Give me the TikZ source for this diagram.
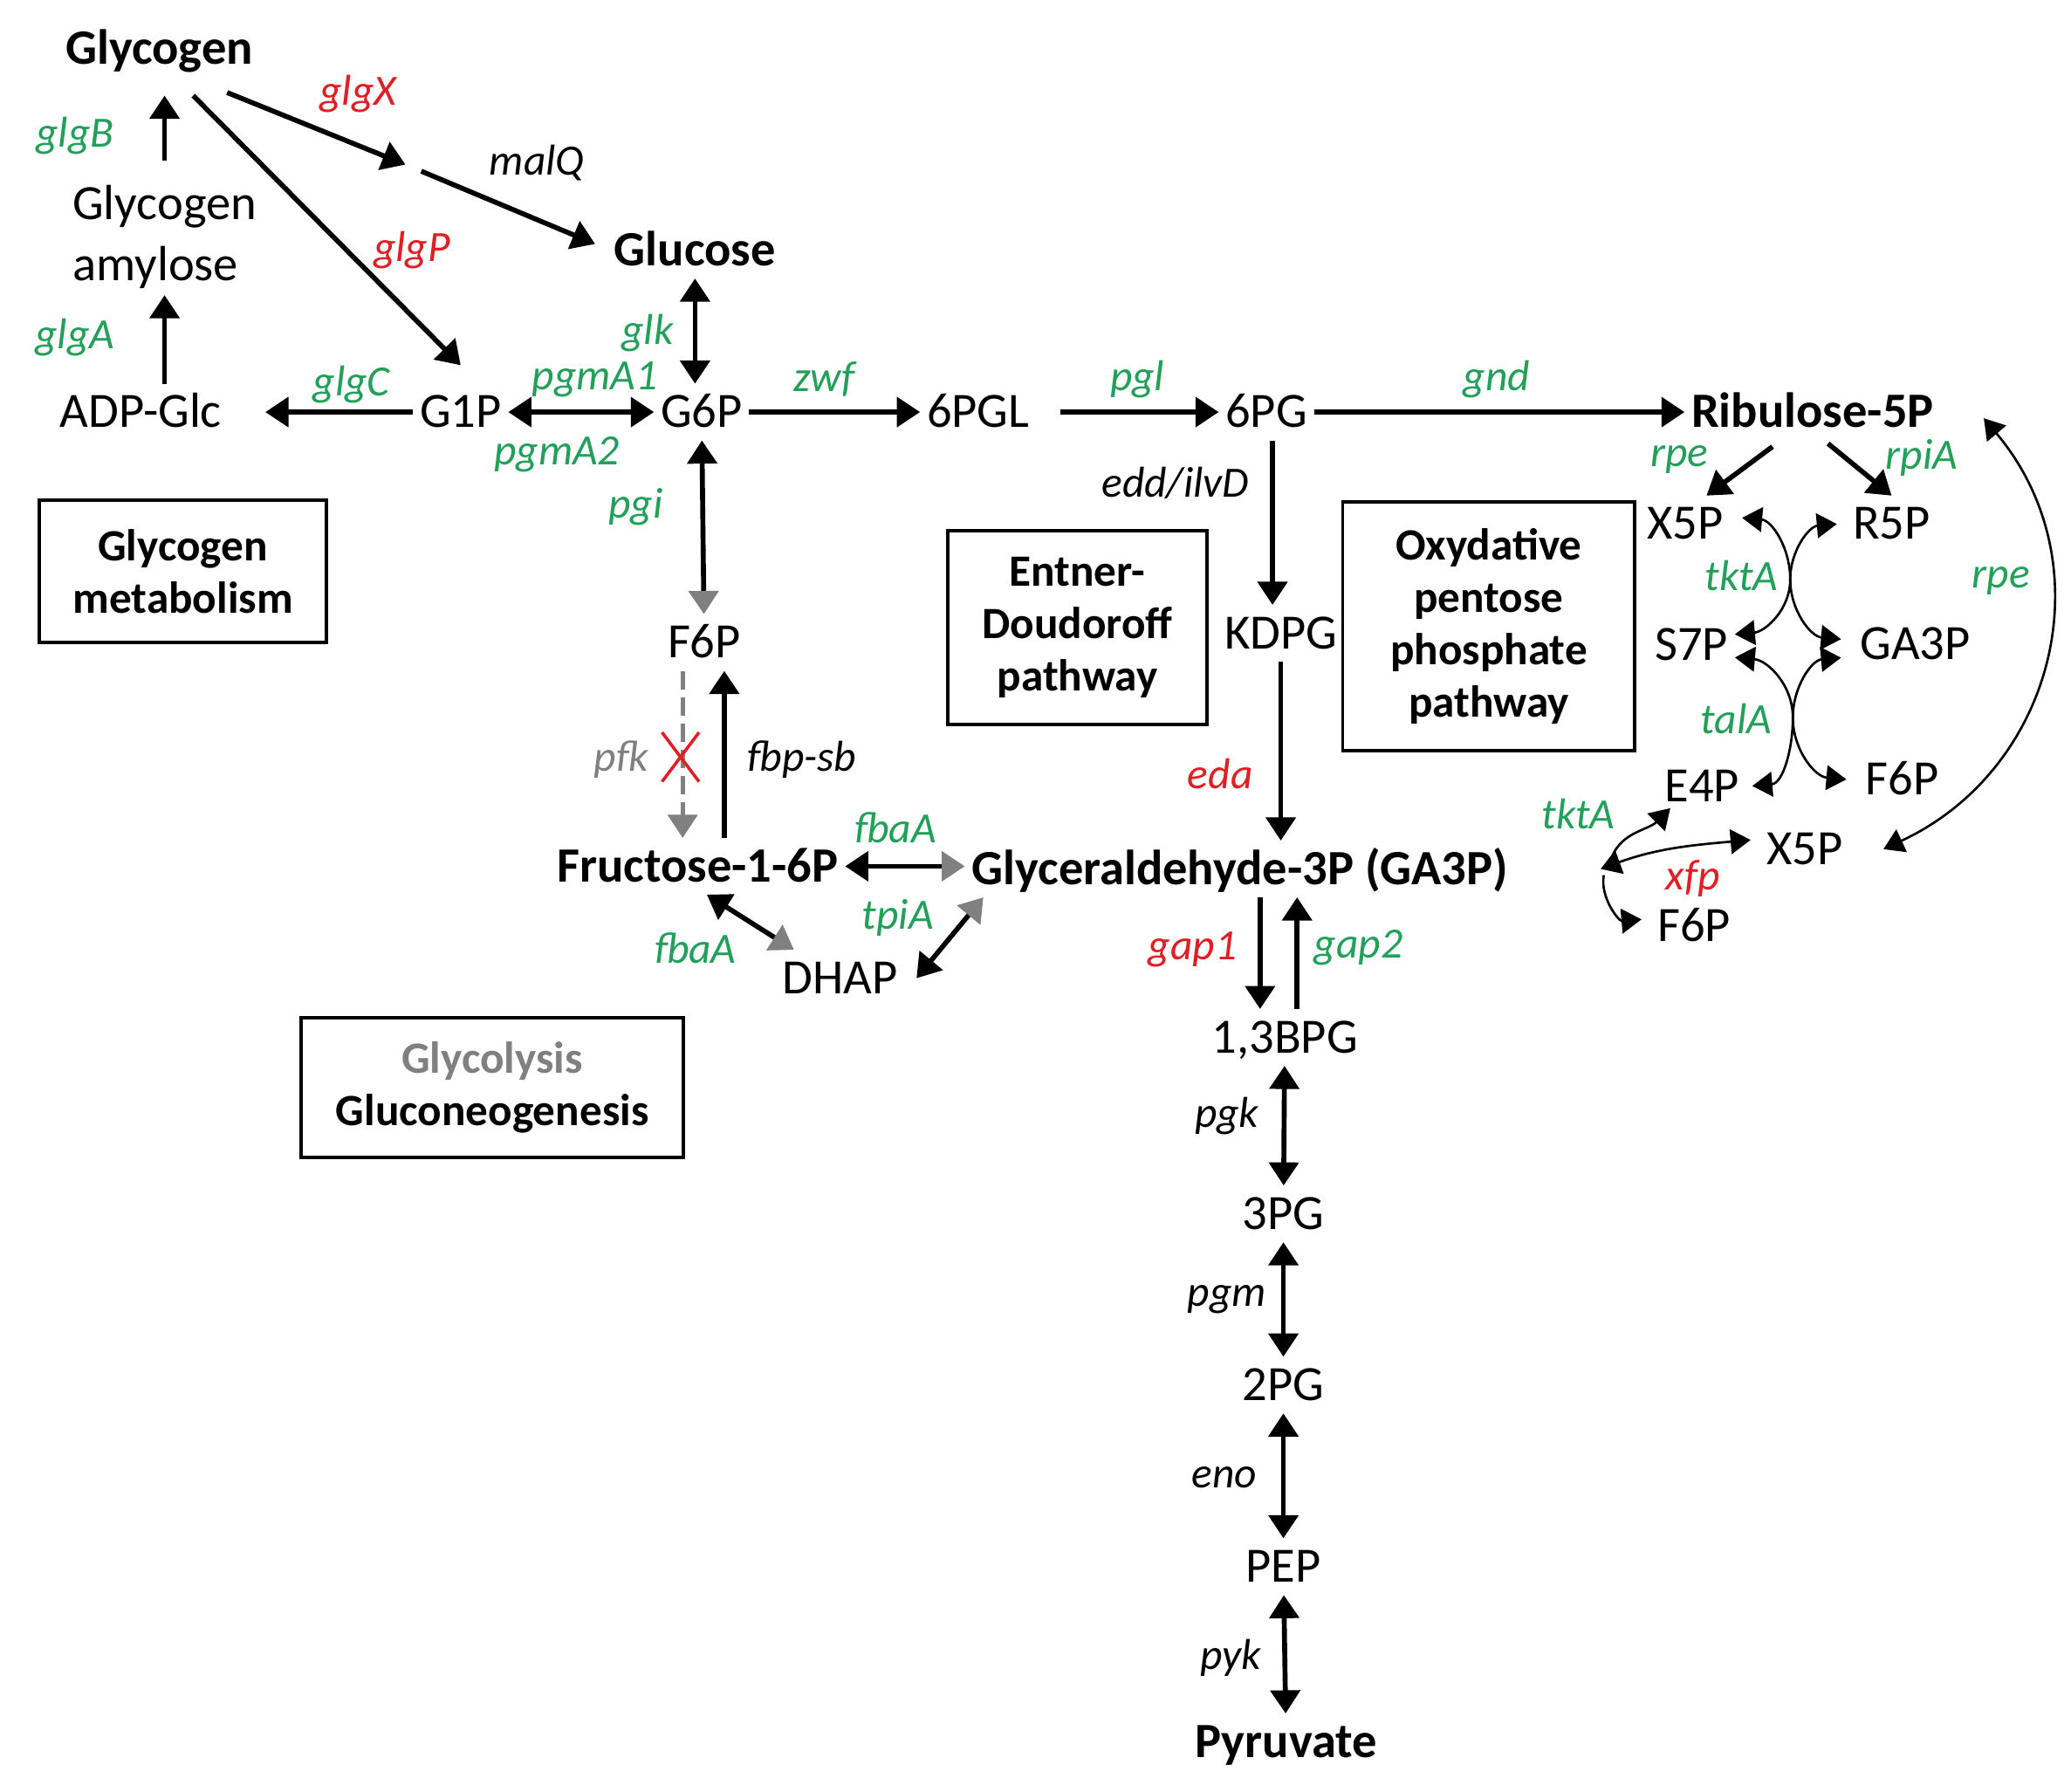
\documentclass[tikz,border=0pt]{standalone}
\usepackage{fontspec}
\setmainfont{Carlito}
\usetikzlibrary{arrows.meta}

\definecolor{enzgreen}{RGB}{34,160,90}
\definecolor{enzred}{RGB}{225,30,35}
\definecolor{enzgray}{RGB}{128,128,128}

\tikzset{
    met/.style={inner sep=2pt, font=\fontsize{16}{19.6}\selectfont, text height=12pt, text depth=2pt},
    bmet/.style={met, font=\fontsize{16}{19.6}\selectfont\bfseries},
    enz/.style={inner sep=0pt, font=\fontsize{14}{17}\selectfont\itshape},
    genz/.style={enz, text=enzgreen},
    renz/.style={enz, text=enzred},
    pbox/.style={draw, line width=1.1pt, align=center, font=\fontsize{14.5}{17}\selectfont\bfseries},
    rxn/.style={line width=1.6pt, -{Triangle[length=7.5pt,width=9.5pt]}},
    rrxn/.style={line width=1.6pt, {Triangle[length=7.5pt,width=9.5pt]}-{Triangle[length=7.5pt,width=9.5pt]}},
    grxn/.style={line width=1.6pt, {Triangle[length=7.5pt,width=9.5pt]}-{Triangle[length=7.5pt,width=9.5pt,color=enzgray,fill=enzgray]}},
    tarr/.style={line width=0.75pt, {Triangle[length=6.5pt,width=8pt]}-{Triangle[length=6.5pt,width=8pt]}},
    tarrend/.style={line width=0.75pt, -{Triangle[length=6.5pt,width=8pt]}}
}

\begin{document}
\begin{tikzpicture}[x=0.015cm, y=0.015cm]
    \useasboundingbox (0,0) rectangle (1568,-1361);

    % glycogen
    \node[bmet] at (121,-37)(glycogen){Glycogen};
    \node[inner sep=2pt, anchor=west, align=left, font=\fontsize{16}{19.6}\selectfont] at (50,-180)(amyl){Glycogen\\amylose};
    \node[met] at (107,-313)(adpglc){ADP-Glc};
    \node[met] at (350,-313)(g1p){G1P};
    \node[met] at (533,-313)(g6p){G6P};
    \node[bmet] at (528,-190)(glucose){Glucose};
    \coordinate (dexa) at (308,-125);
    \coordinate (dexb) at (320,-130);

    % upper row
    \node[met] at (743,-313)(pgl6){6PGL};
    \node[met] at (962,-313)(pg6){6PG};
    \node[bmet] at (1377,-313)(ribu){Ribulose-5P};
    \node[met] at (973,-481)(kdpg){KDPG};

    % glycolysis
    \node[met] at (535,-488)(f6p){F6P};
    \node[bmet] at (530,-658)(fru){Fructose-1-6P};
    \node[bmet] at (942,-660)(ga3p){Glyceraldehyde-3P (GA3P)};
    \node[met] at (638,-743)(dhap){DHAP};
    \node[met] at (976,-788)(bpg){1,3BPG};
    \node[met] at (975,-922)(pg3){3PG};
    \node[met] at (975,-1052)(pg2){2PG};
    \node[met] at (975,-1190)(pep){PEP};
    \node[bmet] at (977,-1323)(pyr){Pyruvate};

    % pentose phosphate
    \node[met] at (1280,-398)(x5pt){X5P};
    \node[met] at (1437,-398)(r5p){R5P};
    \node[met] at (1285,-490)(s7p){S7P};
    \node[met] at (1455,-489)(ga3pp){GA3P};
    \node[met] at (1293,-597)(e4p){E4P};
    \node[met] at (1445,-592)(f6pt){F6P};
    \node[met] at (1371,-645)(x5pb){X5P};
    \node[met] at (1287,-703)(f6pb){F6P};
    \coordinate (tkx) at (1360,-440);
    \coordinate (talx) at (1362,-545);
    \coordinate (tkj) at (1216,-660);

    % boxes
    \node[pbox, minimum width=3.27cm, minimum height=1.62cm] at (139,-434)(bxgly){Glycogen\\metabolism};
    \node[pbox, minimum width=2.955cm, minimum height=2.205cm] at (818.5,-476.5)(bxed){Entner-\\Doudoroff\\pathway};
    \node[pbox, minimum width=3.33cm, minimum height=2.835cm] at (1131,-475.5)(bxppp){Oxydative\\pentose\\phosphate\\pathway};
    \node[pbox, minimum width=4.35cm, minimum height=1.59cm] at (374,-826)(bxglyc){\textcolor{enzgray}{Glycolysis}\\Gluconeogenesis};

    % enzymes
    \node[genz] at (57,-103)(glgB){glgB};
    \node[genz] at (57,-256)(glgA){glgA};
    \node[genz] at (267,-292)(glgC){glgC};
    \node[renz] at (272,-71)(glgX){glgX};
    \node[enz] at (408,-124)(malQ){malQ};
    \node[renz] at (313,-190)(glgP){glgP};
    \node[genz] at (492,-253)(glk){glk};
    \node[genz] at (452,-288)(pgmAa){pgmA1};
    \node[genz] at (423,-345)(pgmAb){pgmA2};
    \node[genz] at (626,-288)(zwf){zwf};
    \node[genz] at (864,-288)(pgl){pgl};
    \node[genz] at (1137,-288)(gnd){gnd};
    \node[enz] at (893,-367)(edd){edd/ilvD};
    \node[genz] at (483,-385)(pgi){pgi};
    \node[renz] at (927,-588)(eda){eda};
    \node[enz, text=enzgray] at (472,-577)(pfk){pfk};
    \node[enz] at (609,-577)(fbp){fbp-sb};
    \node[genz] at (680,-629)(fbaAa){fbaA};
    \node[genz] at (682,-697)(tpiA){tpiA};
    \node[genz] at (528,-720)(fbaAb){fbaA};
    \node[renz] at (906,-721)(gapa){gap1};
    \node[genz] at (1032,-720)(gapb){gap2};
    \node[enz] at (932,-848)(pgk){pgk};
    \node[enz] at (932,-987)(pgm){pgm};
    \node[enz] at (930,-1122)(eno){eno};
    \node[enz] at (935,-1259)(pyk){pyk};
    \node[genz] at (1276,-349)(rpea){rpe};
    \node[genz] at (1460,-348)(rpiA){rpiA};
    \node[genz] at (1323,-437)(tktAa){tktA};
    \node[genz] at (1520,-441)(rpeb){rpe};
    \node[genz] at (1319,-546)(talA){talA};
    \node[genz] at (1199,-618)(tktAb){tktA};
    \node[renz] at (1286,-667)(xfp){xfp};

    % glycogen reactions
    \draw[rxn] (adpglc.north -| amyl.south) -- (amyl.south);
    \draw[rxn, shorten <=6pt, shorten >=6pt] (amyl.north) -- (amyl.north |- glycogen.south);
    \draw[rxn] ([xshift=11pt,yshift=-6pt]glycogen.south) -- ([yshift=6pt]g1p.north);
    \draw[rxn] ([xshift=22pt,yshift=-5pt]glycogen.south) -- (dexa);
    \draw[rxn] (dexb) -- ([xshift=-4pt,yshift=2pt]glucose.west);
    \draw[rxn, shorten >=12pt] (g1p) -- (adpglc);
    \draw[rrxn] (g1p) -- (g6p);
    \draw[rrxn] (glucose.south) -- (glucose.south |- g6p.north);

    % oxidative branch
    \draw[rxn] (g6p) -- (pgl6);
    \draw[rxn, shorten <=8pt] (pgl6) -- (pg6);
    \draw[rxn] (pg6) -- (ribu);
    \draw[rxn] ([xshift=2pt]pg6.south) -- ([xshift=2pt]pg6.south |- kdpg.north);
    \draw[rxn] (kdpg.south) -- (kdpg.south |- ga3p.north);

    % upper glycolysis
    \draw[grxn] (g6p) -- (f6p);
    \draw[line width=1.4pt, enzgray, dash pattern=on 6pt off 2.5pt, -{Triangle[length=7.5pt,width=9.5pt]}] ([xshift=-7pt]f6p.south) -- ([xshift=-7pt]f6p.south |- fru.north);
    \draw[rxn] ([xshift=6.5pt]f6p.south |- fru.north) -- ([xshift=6.5pt]f6p.south);
    \coordinate (pfkx) at (517,-575);
    \draw[enzred, line width=1pt] ([shift={(-6pt,8pt)}]pfkx) -- ([shift={(6pt,-8pt)}]pfkx)
        ([shift={(6pt,8pt)}]pfkx) -- ([shift={(-6pt,-8pt)}]pfkx);
    \draw[grxn] (fru.east) -- (fru.east -| ga3p.west);
    \draw[grxn] ([xshift=3pt]fru.south) -- ([xshift=6pt]dhap.north west);
    \draw[grxn] ([xshift=4pt]dhap.east) -- ([xshift=6pt]ga3p.south west);

    % lower glycolysis
    \draw[rxn] ([xshift=-8pt]bpg.north |- ga3p.south) -- ([xshift=-8pt]bpg.north);
    \draw[rxn] ([xshift=4pt]bpg.north) -- ([xshift=4pt]bpg.north |- ga3p.south);
    \draw[rrxn] (bpg) -- (pg3);
    \draw[rrxn] (pg3) -- (pg2);
    \draw[rrxn] (pg2) -- (pep);
    \draw[rrxn] (pep) -- (pyr);

    % non-oxidative pentose phosphate
    \draw[rxn] ([xshift=-13pt,yshift=-2pt]ribu.south) -- ([xshift=7pt]x5pt.north);
    \draw[rxn] ([xshift=5pt,yshift=-1pt]ribu.south) -- (r5p.north);
    \draw[tarr] ([xshift=4pt,yshift=2pt]x5pt.east) to[out=-5,in=90] (tkx) to[out=-90,in=175] ([xshift=-4pt,yshift=1.5pt]ga3pp.west);
    \draw[tarr] ([xshift=-3pt]r5p.west) to[out=185,in=90] (tkx) to[out=-90,in=5] ([yshift=3.5pt]s7p.east);
    \draw[tarr] ([yshift=-4pt]s7p.east) to[out=-5,in=90] (talx) to[out=-90,in=175] ([xshift=-4pt]f6pt.west);
    \draw[tarr] ([xshift=-4pt,yshift=-4.5pt]ga3pp.west) to[out=185,in=90] (talx) to[out=-90,in=5] ([xshift=2pt]e4p.east);
    \draw[tarr] (tkj) to[out=20,in=185] ([xshift=-3pt,yshift=3pt]x5pb.west);
    \draw[tarrend] ([xshift=3pt,yshift=2pt]tkj) to[out=75,in=225] ([xshift=4pt,yshift=2pt]e4p.south west);
    \draw[tarrend] ([xshift=1pt,yshift=-2pt]tkj) to[out=-100,in=185] ([xshift=-3pt,yshift=2pt]f6pb.west);
    \draw[tarr] ([xshift=14pt,yshift=-2pt]ribu.east) to[out=-50,in=25,looseness=1.1] ([xshift=11pt]x5pb.east);
\end{tikzpicture}
\end{document}
